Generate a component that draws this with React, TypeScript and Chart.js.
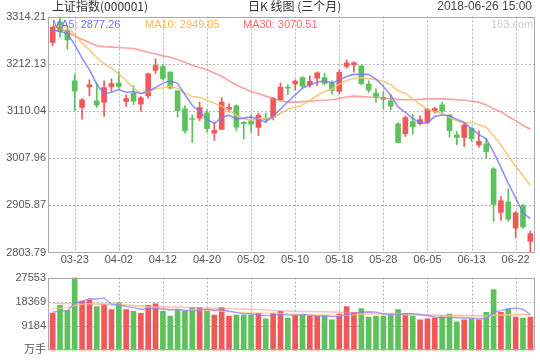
import React, { useEffect, useRef } from "react";
import { Chart, registerables } from "chart.js";

Chart.register(...registerables);

// ---------------- data ----------------
const dates = [
  "03-20","03-21","03-22","03-23","03-26","03-27","03-28","03-29","03-30",
  "04-02","04-03","04-04","04-09","04-10","04-11","04-12","04-13","04-16","04-17","04-18","04-19","04-20",
  "04-23","04-24","04-25","04-26","04-27",
  "05-02","05-03","05-04","05-07","05-08","05-09","05-10","05-11","05-14","05-15","05-16","05-17","05-18",
  "05-21","05-22","05-23","05-24","05-25","05-28","05-29","05-30","05-31",
  "06-01","06-04","06-05","06-06","06-07","06-08","06-11","06-12","06-13","06-14","06-15",
  "06-19","06-20","06-21","06-22","06-25","06-26",
];

const tickLabels = ["03-23","04-02","04-12","04-20","05-02","05-10","05-18","05-28","06-05","06-13","06-22"];

const opens = [
  3258.0, 3302.0, 3283.9, 3175.0, 3117.4, 3162.0, 3131.9, 3128.2, 3162.1,
  3170.1, 3130.4, 3148.5, 3125.4, 3142.7, 3197.4, 3206.1, 3194.0, 3153.5, 3114.6, 3093.2, 3094.4, 3105.9,
  3062.0, 3069.8, 3113.0, 3121.0, 3085.5,
  3088.6, 3074.1, 3094.4, 3095.7, 3134.0, 3161.4, 3168.6, 3182.3, 3166.5, 3180.9, 3182.3, 3171.4, 3152.0,
  3206.1, 3209.7, 3207.6, 3167.9, 3148.5, 3139.0, 3131.9, 3082.3, 3060.5,
  3087.1, 3082.3, 3085.8, 3108.8, 3123.2, 3101.6, 3058.3, 3052.5, 3072.8, 3036.7, 3038.9,
  2984.8, 2890.3, 2913.6, 2856.5, 2904.8, 2827.5,
];
const closes = [
  3290.64, 3280.95, 3263.48, 3152.76, 3133.72, 3166.65, 3122.29, 3160.53, 3168.90,
  3163.18, 3136.63, 3131.11, 3138.29, 3190.32, 3208.08, 3180.16, 3159.05, 3110.65, 3066.80, 3091.40, 3117.38, 3071.54,
  3068.01, 3128.93, 3117.97, 3075.03, 3082.23,
  3081.18, 3100.86, 3091.03, 3136.64, 3161.50, 3159.15, 3174.41, 3163.26, 3174.03, 3192.12, 3169.57, 3154.28, 3193.30,
  3213.84, 3214.35, 3168.96, 3154.65, 3141.30, 3135.08, 3120.46, 3041.44, 3095.47,
  3075.14, 3091.19, 3114.21, 3115.18, 3109.50, 3067.15, 3052.78, 3079.80, 3049.80, 3044.16, 3021.90,
  2907.82, 2915.73, 2875.81, 2889.76, 2859.34, 2844.51,
];
const highs = [
  3293.0, 3314.21, 3290.4, 3189.6, 3136.5, 3177.3, 3170.1, 3175.1, 3179.4,
  3195.2, 3144.9, 3164.3, 3141.2, 3191.8, 3222.7, 3209.7, 3195.2, 3153.5, 3121.7, 3101.6, 3129.0, 3112.4,
  3085.8, 3139.0, 3125.4, 3123.2, 3087.1,
  3101.6, 3105.2, 3105.2, 3139.0, 3170.0, 3166.5, 3177.3, 3184.0, 3186.0, 3194.6, 3191.8, 3175.1, 3198.4,
  3220.5, 3216.0, 3208.0, 3175.1, 3157.8, 3152.0, 3144.9, 3085.0, 3099.4,
  3103.0, 3099.4, 3116.1, 3118.2, 3129.0, 3101.6, 3065.5, 3082.3, 3074.1, 3067.0, 3049.7,
  2987.6, 2924.9, 2941.5, 2892.4, 2908.4, 2850.7,
];
const lows = [
  3251.5, 3268.8, 3242.8, 3110.2, 3092.3, 3142.7, 3117.4, 3097.9, 3152.0,
  3159.3, 3119.5, 3123.2, 3110.2, 3137.7, 3190.3, 3177.3, 3157.8, 3096.6, 3062.0, 3041.7, 3088.6, 3064.1,
  3046.0, 3069.8, 3107.4, 3066.9, 3049.7,
  3064.1, 3056.8, 3085.8, 3090.8, 3134.0, 3144.9, 3155.6, 3160.0, 3161.4, 3165.0, 3166.5, 3147.0, 3147.0,
  3202.6, 3194.0, 3166.0, 3149.8, 3129.0, 3114.6, 3112.4, 3041.44, 3054.6,
  3059.8, 3079.9, 3083.0, 3105.2, 3105.2, 3052.5, 3036.7, 3033.0, 3043.8, 3031.7, 3008.0,
  2870.8, 2873.0, 2870.8, 2836.2, 2856.5, 2803.79,
];

const ma5 = [
  3284.45, 3282.37, 3276.84, 3253.42, 3224.31, 3199.51, 3167.78, 3147.19, 3150.42,
  3156.31, 3150.31, 3152.07, 3147.62, 3151.91, 3160.89, 3169.59, 3175.18, 3169.65, 3144.95, 3121.61, 3109.06, 3091.55,
  3083.03, 3095.45, 3100.77, 3092.30, 3094.43,
  3097.07, 3091.45, 3086.07, 3098.39, 3114.24, 3129.84, 3144.55, 3158.99, 3166.47, 3172.59, 3174.68, 3170.65, 3176.66,
  3184.62, 3189.07, 3188.95, 3189.02, 3178.62, 3162.87, 3144.09, 3118.59, 3106.75,
  3093.52, 3084.74, 3083.49, 3098.24, 3101.04, 3099.45, 3091.76, 3084.88, 3071.81, 3058.74, 3049.69,
  3020.70, 2987.88, 2953.08, 2922.20, 2889.69, 2877.26,
];
const ma10 = [
  3292.65, 3293.57, 3291.08, 3275.64, 3256.34, 3241.98, 3225.07, 3212.02, 3201.92,
  3190.31, 3174.91, 3159.93, 3147.41, 3151.16, 3158.60, 3159.95, 3163.63, 3158.64, 3148.43, 3141.25, 3139.32, 3133.37,
  3126.34, 3120.20, 3111.19, 3100.68, 3092.99,
  3090.05, 3093.45, 3093.42, 3095.34, 3104.34, 3113.45, 3118.00, 3122.53, 3132.43, 3143.42, 3152.26, 3157.60, 3167.83,
  3175.55, 3180.83, 3181.81, 3179.84, 3177.64, 3173.75, 3166.58, 3153.77, 3147.89,
  3136.07, 3123.80, 3113.79, 3108.41, 3103.90, 3096.48, 3088.25, 3084.19, 3085.02, 3079.89, 3074.57,
  3056.23, 3036.38, 3012.45, 2990.47, 2969.69, 2949.05,
];
const ma30 = [
  3296, 3289, 3280, 3272, 3265, 3258, 3251, 3249, 3248,
  3247, 3246, 3245, 3241, 3237, 3233, 3229, 3226, 3221, 3215, 3209, 3204, 3199,
  3192, 3185, 3175, 3166, 3159,
  3152, 3147, 3142, 3137, 3132, 3129, 3129, 3130, 3131, 3132, 3133, 3134, 3137,
  3140, 3142, 3141, 3140, 3139, 3138, 3137, 3135, 3134,
  3134, 3135, 3136, 3136, 3136, 3135, 3134, 3133, 3131, 3129, 3123,
  3115, 3108, 3098, 3089, 3079, 3070.51,
];

const volumes = [
  14169, 17031, 15135, 27553, 18713, 19178, 16566, 17282, 15493,
  17997, 15493, 14777, 14062, 17031, 17640, 14777, 12988, 15493, 14777, 16208, 16208, 15493,
  13346, 16208, 12988, 13346, 13346,
  13346, 14062, 11915, 14062, 14777, 12273, 13346, 13346, 12988, 12988, 12988, 11557, 13811,
  16566, 14419, 15851, 12630, 12988, 12988, 13704, 15493, 14062,
  12988, 11557, 11915, 12273, 12988, 13704, 10841, 11557, 11915, 11557, 14419,
  23007, 14419, 15600, 12630, 12273, 12630,
];
const volMa5 = [
  14540, 14777, 15015, 18000, 18520, 19522, 19429, 19858, 17446,
  17303, 16566, 16208, 15564, 15872, 15801, 15657, 15300, 15586, 15135, 14849, 15135, 15636,
  15206, 15493, 14849, 14276, 13847,
  13847, 13418, 13203, 13346, 13632, 13418, 13275, 13561, 13346, 12988, 13131, 12773, 12866,
  13582, 13868, 14441, 14655, 14491, 13775, 13632, 13561, 13847,
  13847, 13561, 13203, 12559, 12344, 12487, 12344, 12271, 12200, 11914, 12055,
  14488, 15060, 15797, 16012, 15583, 13507,
];
const volMa10 = [
  15900, 16000, 16200, 17000, 17400, 17700, 17800, 17800, 17700,
  17600, 17300, 17000, 16700, 16400, 16200, 15900, 15600, 15500, 15300, 15300, 15200, 15100,
  14900, 14800, 14700, 14500, 14400,
  14300, 14200, 14100, 14100, 14000, 13900, 13700, 13600, 13500, 13400, 13400, 13300, 13200,
  13400, 13500, 13700, 13800, 13800, 13800, 13700, 13600, 13500,
  13400, 13300, 13200, 13100, 13000, 12900, 12800, 12700, 12600, 12600, 12700,
  13300, 13400, 13500, 13600, 13700, 13700,
];
const volMa30 = [
  17800, 17750, 17700, 17650, 17550, 17450, 17350, 17250, 17200,
  17100, 17000, 16900, 16800, 16700, 16600, 16500, 16450, 16400, 16300, 16250, 16150, 16050,
  15950, 15850, 15800, 15700, 15650,
  15600, 15450, 15300, 15150, 15000, 14900, 14800, 14750, 14700, 14650, 14600, 14550, 14450,
  14400, 14350, 14300, 14200, 14100, 14000, 13950, 13850, 13750,
  13650, 13550, 13450, 13400, 13350, 13300, 13300, 13250, 13200, 13100, 13100,
  13200, 13300, 13400, 13450, 13500, 13500,
];

const priceTicks = [2803.79, 2905.87, 3007.96, 3110.04, 3212.13, 3314.21];
const volumeTicks = [0, 9184, 18369, 27553];

// ---------------- styles ----------------
const RED = "#ef5959";
const GREEN = "#5dc15d";
const GRID = "#b4b4b4";
const FRAME = "#aaaaaa";
const TICK_FONT = { family: "'Liberation Sans', Arial, 'Noto Sans CJK SC', sans-serif", size: 11 };
const TICK_COLOR = "#555555";

const isUp = (i: number) => closes[i] >= opens[i];
const barColors = dates.map((_, i) => (isUp(i) ? RED : GREEN));

// dashed grid (behind the marks) + frame, positioned through the chart's scales
const panel = {
  id: "panel",
  beforeDraw(chart: any) {
    const { ctx } = chart;
    ctx.save();
    ctx.fillStyle = "#ffffff";
    ctx.fillRect(0, 0, chart.width, chart.height);
    ctx.restore();
  },
  beforeDatasetsDraw(chart: any, _a: any, opts: any) {
    const { ctx, chartArea, scales } = chart;
    const xs = scales.x;
    const ys = scales.y;
    const vals: number[] = (opts && opts.ticks) ? Array.from(opts.ticks as number[]) : [];
    ctx.save();
    ctx.strokeStyle = GRID;
    ctx.lineWidth = 1;
    ctx.setLineDash([2, 2]);
    for (let i = 0; i < dates.length; i++) {
      if (tickLabels.indexOf(dates[i]) < 0) continue;
      const x = Math.round(xs.getPixelForValue(i)) + 0.5;
      ctx.beginPath();
      ctx.moveTo(x, chartArea.top);
      ctx.lineTo(x, chartArea.bottom);
      ctx.stroke();
    }
    for (let k = 1; k < vals.length - 1; k++) {
      const y = Math.round(ys.getPixelForValue(vals[k])) + 0.5;
      ctx.beginPath();
      ctx.moveTo(chartArea.left, y);
      ctx.lineTo(chartArea.right, y);
      ctx.stroke();
    }
    ctx.restore();
  },
  afterDraw(chart: any) {
    const { ctx, chartArea } = chart;
    ctx.save();
    ctx.strokeStyle = FRAME;
    ctx.lineWidth = 1;
    ctx.setLineDash([]);
    const l = Math.round(chartArea.left) - 0.5;
    const t = Math.round(chartArea.top) + 0.5;
    const r = Math.round(chartArea.right) + 0.5;
    const b = Math.round(chartArea.bottom) - 0.5;
    ctx.strokeRect(l, t, r - l, b - t);
    ctx.restore();
  },
};

export default function App() {
  const topRef = useRef<HTMLCanvasElement>(null);
  const botRef = useRef<HTMLCanvasElement>(null);

  useEffect(() => {
    const lineDs = (label: string, data: number[], color: string, width: number) => ({
      type: "line" as const,
      label,
      data,
      borderColor: color,
      borderWidth: width,
      pointRadius: 0,
      tension: 0,
      fill: false,
      order: 0,
    });

    const top = new Chart(topRef.current!, {
      type: "bar",
      data: {
        labels: dates,
        datasets: [
          lineDs("MA5", ma5, "rgba(118,118,255,0.8)", 1.6),
          lineDs("MA10", ma10, "rgba(255,190,110,0.85)", 1.6),
          lineDs("MA30", ma30, "rgba(255,110,110,0.65)", 1.6),
          {
            type: "bar",
            label: "body",
            data: dates.map((_, i) => [opens[i], closes[i]]) as any,
            backgroundColor: barColors,
            barThickness: 5,
            grouped: false,
            minBarLength: 1,
            order: 1,
          },
          {
            type: "bar",
            label: "wick",
            data: dates.map((_, i) => [lows[i], highs[i]]) as any,
            backgroundColor: barColors,
            barThickness: 1,
            grouped: false,
            order: 2,
          },
        ] as any,
      },
      options: {
        responsive: false,
        animation: false,
        devicePixelRatio: 1,
        layout: { padding: { left: 0, right: 6, top: 16.5, bottom: 0 } },
        plugins: {
          legend: { display: false },
          tooltip: { enabled: false },
          panel: { ticks: priceTicks },
        },
        scales: {
          x: {
            offset: true,
            grid: { display: false, drawTicks: false },
            border: { display: false },
            ticks: {
              autoSkip: false,
              maxRotation: 0,
              padding: 1,
              font: TICK_FONT,
              color: TICK_COLOR,
              callback: (_v: any, i: number) => (tickLabels.includes(dates[i]) ? dates[i] : ""),
            },
            afterFit: (s: any) => {
              s.height = 15.5;
            },
          },
          y: {
            min: priceTicks[0],
            max: priceTicks[priceTicks.length - 1],
            afterBuildTicks: (s: any) => {
              s.ticks = priceTicks.map((v) => ({ value: v }));
            },
            grid: { display: false, drawTicks: false },
            border: { display: false },
            ticks: {
              padding: 3,
              font: TICK_FONT,
              color: TICK_COLOR,
              callback: (v: any) => Number(v).toFixed(2),
            },
            afterFit: (s: any) => {
              s.width = 49;
            },
          },
        },
      } as any,
      plugins: [panel],
    });

    const bot = new Chart(botRef.current!, {
      type: "bar",
      data: {
        labels: dates,
        datasets: [
          lineDs("VMA5", volMa5, "rgba(130,130,255,0.75)", 1.4),
          lineDs("VMA10", volMa10, "rgba(255,200,130,0.75)", 1.4),
          lineDs("VMA30", volMa30, "rgba(255,150,150,0.6)", 1.4),
          {
            type: "bar",
            label: "volume",
            data: volumes,
            backgroundColor: barColors,
            barThickness: 5,
            order: 1,
          },
        ] as any,
      },
      options: {
        responsive: false,
        animation: false,
        devicePixelRatio: 1,
        layout: { padding: { left: 0, right: 6, top: 6.3, bottom: 0 } },
        plugins: {
          legend: { display: false },
          tooltip: { enabled: false },
          panel: { ticks: volumeTicks },
        },
        scales: {
          x: {
            offset: true,
            grid: { display: false, drawTicks: false },
            border: { display: false },
            ticks: { display: false },
            afterFit: (s: any) => {
              s.height = 8.5;
            },
          },
          y: {
            min: 0,
            max: volumeTicks[volumeTicks.length - 1],
            afterBuildTicks: (s: any) => {
              s.ticks = volumeTicks.map((v) => ({ value: v }));
            },
            grid: { display: false, drawTicks: false },
            border: { display: false },
            ticks: {
              padding: 3,
              font: TICK_FONT,
              color: TICK_COLOR,
              callback: (v: any) => (Number(v) === 0 ? "万手" : String(v)),
            },
            afterFit: (s: any) => {
              s.width = 49;
            },
          },
        },
      } as any,
      plugins: [panel],
    });

    return () => {
      top.destroy();
      bot.destroy();
    };
  }, []);

  const txt = (extra: React.CSSProperties): React.CSSProperties => ({
    position: "absolute",
    whiteSpace: "nowrap",
    lineHeight: "14px",
    ...extra,
  });

  const headFont = "'Noto Sans CJK SC', 'Liberation Sans', sans-serif";
  const legFont = "'Liberation Sans', Arial, sans-serif";

  return (
    <div
      style={{
        position: "fixed",
        left: 0,
        top: 0,
        width: 540,
        height: 360,
        background: "#ffffff",
        overflow: "hidden",
      }}
    >
      <canvas ref={topRef} width={540} height={268} style={{ position: "absolute", left: 0, top: 0 }} />
      <canvas ref={botRef} width={540} height={92} style={{ position: "absolute", left: 0, top: 268 }} />
      <div style={txt({ left: 52, top: -1, fontSize: 12, fontFamily: headFont, color: "#333" })}>
        上证指数(000001)
      </div>
      <div style={txt({ left: 248, top: -1, fontSize: 12, fontFamily: headFont, color: "#333" })}>
        日K 线图 (三个月)
      </div>
      <div style={txt({ right: 8, top: -1, fontSize: 12, fontFamily: legFont, color: "#444" })}>
        2018-06-26 15:00
      </div>
      <div style={txt({ left: 52, top: 17, fontSize: 11, fontFamily: legFont, color: "#7272ff" })}>
        MA5: 2877.26
      </div>
      <div style={txt({ left: 145, top: 17, fontSize: 11, fontFamily: legFont, color: "#ffb85c" })}>
        MA10: 2949.05
      </div>
      <div style={txt({ left: 243, top: 17, fontSize: 11, fontFamily: legFont, color: "#ff6a6a" })}>
        MA30: 3070.51
      </div>
      <div style={txt({ left: 491, top: 17, fontSize: 11, fontFamily: legFont, color: "#cccccc" })}>
        163.com
      </div>
    </div>
  );
}
